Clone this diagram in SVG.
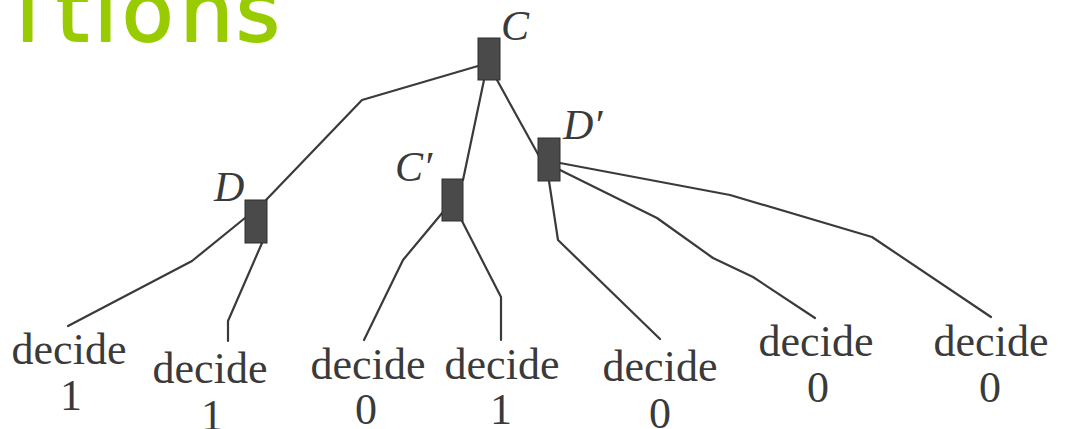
<svg xmlns="http://www.w3.org/2000/svg" width="1065" height="429" viewBox="0 0 1065 429">
  <style>
    .title { font-family: "DejaVu Sans", "Noto Sans", sans-serif; font-size: 84px; fill: #99cc00; stroke: #99cc00; stroke-width: 2; stroke-linejoin: round; }
    .edge { fill: none; stroke: #3a3a3a; stroke-width: 2.2; stroke-linejoin: round; stroke-linecap: round; }
    .box { fill: #4a4a4a; stroke: #2e2e2e; stroke-width: 1; }
    .nlabel { font-family: "Liberation Serif", "Times New Roman", serif; font-style: italic; font-size: 42px; fill: #3a3a3a; }
    .leaf { font-family: "Liberation Serif", "Times New Roman", serif; font-size: 44px; fill: #3a3a3a; text-anchor: middle; }
  </style>
  <rect width="1065" height="429" fill="#ffffff"/>
  <text class="title" x="16 56 94 122 180 236" y="41">itions</text>

  <g id="connectors">
    <polyline class="edge" points="478,66 362,100 266,200"/>
    <polyline class="edge" points="245,218 192,261 68,326"/>
    <polyline class="edge" points="262,243 228,321 228,341"/>
    <polyline class="edge" points="484,80 463,180"/>
    <polyline class="edge" points="497,80 539,156"/>
    <polyline class="edge" points="443,212 403,260 364,340"/>
    <polyline class="edge" points="462,221 501,297 501,340"/>
    <polyline class="edge" points="549,181 558,240 660,339"/>
    <polyline class="edge" points="560,170 657,218 713,258 753,277 815,318"/>
    <polyline class="edge" points="560,163 730,195 872,237 991,317"/>
  </g>

  <g id="node-C">
    <rect class="box" x="478" y="38" width="22" height="42"/>
    <text class="nlabel" x="501" y="40">C</text>
  </g>
  <g id="node-D">
    <rect class="box" x="245" y="200" width="22" height="43"/>
    <text class="nlabel" x="214" y="201">D</text>
  </g>
  <g id="node-Cp">
    <rect class="box" x="442" y="179" width="21" height="42"/>
    <text class="nlabel" x="395" y="181">C′</text>
  </g>
  <g id="node-Dp">
    <rect class="box" x="538" y="138" width="22" height="43"/>
    <text class="nlabel" x="563" y="139">D′</text>
  </g>

  <g id="leaf-1"><text class="leaf" x="69" y="364">decide</text><text class="leaf" x="71" y="410">1</text></g>
  <g id="leaf-2"><text class="leaf" x="210" y="383">decide</text><text class="leaf" x="212" y="430">1</text></g>
  <g id="leaf-3"><text class="leaf" x="368" y="379">decide</text><text class="leaf" x="366" y="424">0</text></g>
  <g id="leaf-4"><text class="leaf" x="502" y="379">decide</text><text class="leaf" x="501" y="424">1</text></g>
  <g id="leaf-5"><text class="leaf" x="660" y="381">decide</text><text class="leaf" x="660" y="428">0</text></g>
  <g id="leaf-6"><text class="leaf" x="816" y="356">decide</text><text class="leaf" x="818" y="402">0</text></g>
  <g id="leaf-7"><text class="leaf" x="991" y="356">decide</text><text class="leaf" x="990" y="402">0</text></g>
</svg>
